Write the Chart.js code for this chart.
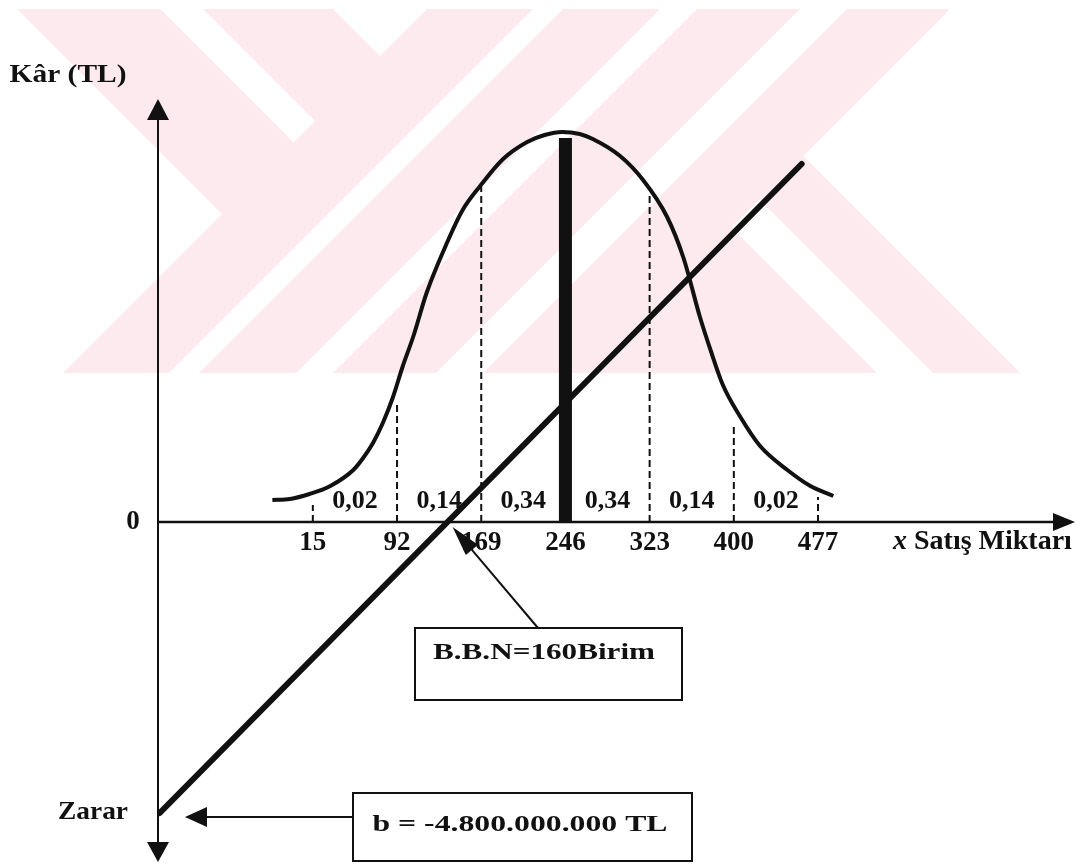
<!DOCTYPE html>
<html>
<head>
<meta charset="utf-8">
<script src="https://cdn.jsdelivr.net/npm/chart.js@4.4.1/dist/chart.umd.min.js"></script>
<style>
  html, body { margin: 0; padding: 0; background: #fff; }
  canvas { display: block; }
</style>
</head>
<body>
<canvas id="bepChart" width="1087" height="865"></canvas>
<script>
// sales quantity ticks on the x axis and the probability of each interval
const tickValues = [15, 92, 169, 246, 323, 400, 477];
const probabilities = [0.02, 0.14, 0.34, 0.34, 0.14, 0.02];

// demand curve (x = units, y = relative height)
const curveX = [-22, -6, 12, 31, 52, 61, 70, 79, 88, 97, 107, 119, 138, 152, 168, 189, 211, 227, 243,
                259, 271, 296, 317, 339, 354, 369, 379, 390, 406, 424, 449, 470, 491];
const curveY = [22, 23, 28, 36, 52, 64, 79, 99, 124, 155, 186, 229, 280, 312, 336, 363, 380, 387, 390,
                388, 383, 366, 342, 305, 264, 205, 171, 137, 105, 76, 52, 36, 26];

// dashed verticals under the curve (x and where each one stops)
const dashX = [15, 92, 169, 323, 400, 477];
const dashTop = [17, 120, 335, 330, 95, 25];

// expected sales (thick bar)
const meanX = [246, 246];
const meanY = [0, 384];

// profit line
const profitX = [-125, 462];
const profitY = [-291, 358];

const breakEven = 160;
const fixedCost = '-4.800.000.000';

const SERIF = '"Liberation Serif", "Times New Roman", serif';
const INK = '#111';

function label(ctx, str, x, y, size, width) {
    ctx.save();
    ctx.font = 'bold ' + size + 'px ' + SERIF;
    ctx.fillStyle = INK;
    ctx.textAlign = 'center';
    ctx.textBaseline = 'middle';
    ctx.translate(x, y);
    if (width) {
        ctx.scale(width / ctx.measureText(str).width, 1);
    }
    ctx.fillText(str, 0, 0);
    ctx.restore();
}

function arrow(ctx, x1, y1, x2, y2, len, half, lw) {
    const a = Math.atan2(y2 - y1, x2 - x1);
    const bx = x2 - len * Math.cos(a);
    const by = y2 - len * Math.sin(a);
    ctx.save();
    ctx.strokeStyle = INK;
    ctx.fillStyle = INK;
    ctx.lineWidth = lw;
    ctx.beginPath();
    ctx.moveTo(x1, y1);
    ctx.lineTo(bx, by);
    ctx.stroke();
    ctx.beginPath();
    ctx.moveTo(x2, y2);
    ctx.lineTo(bx + half * Math.sin(a), by - half * Math.cos(a));
    ctx.lineTo(bx - half * Math.sin(a), by + half * Math.cos(a));
    ctx.closePath();
    ctx.fill();
    ctx.restore();
}

// faint pink stamp behind the figure
const watermark = {
    id: 'watermark',
    beforeDraw(chart) {
        const ctx = chart.ctx;
        const poly = pts => {
            ctx.beginPath();
            pts.forEach(([px, py], i) => i ? ctx.lineTo(px, py) : ctx.moveTo(px, py));
            ctx.closePath();
            ctx.fill();
        };
        ctx.save();
        ctx.beginPath();
        ctx.rect(0, 9, chart.width, 364);
        ctx.clip();
        ctx.fillStyle = '#fdeaee';
        // '/' bands
        [[436, 542], [572, 669], [706, 809], [856, 959]].forEach(([a, b]) =>
            poly([[a, 0], [b, 0], [b - 400, 400], [a - 400, 400]]));
        // '\' bands on the left, ending in the first '/' band
        [[8, 151], [194, 324]].forEach(([a, b]) => {
            const c = 489;
            poly([[a, 0], [b, 0], [(b + c) / 2, (c - b) / 2], [(a + c) / 2, (c - a) / 2]]);
        });
        // '\' bands on the right, starting in the last '/' band
        [[200, 504], [560, 647]].forEach(([a, b]) => {
            const c = 907;
            poly([[(a + c) / 2, (c - a) / 2], [(b + c) / 2, (c - b) / 2], [b + 400, 400], [a + 400, 400]]);
        });
        ctx.restore();
    }
};

const axesAndLabels = {
    id: 'axesAndLabels',
    beforeDatasetsDraw(chart) {
        const ctx = chart.ctx;
        const ca = chart.chartArea;
        const x = chart.scales.x;
        const y = chart.scales.y;
        const y0 = y.getPixelForValue(0);
        const xL = ca.left;

        arrow(ctx, xL, y0, xL, ca.top, 21, 11, 2);
        arrow(ctx, xL, y0, xL, ca.bottom, 20, 11, 2);
        arrow(ctx, xL, y0, ca.right, y0, 22, 9, 2.5);

        label(ctx, '0', xL - 25, y0, 27);
        tickValues.forEach(v => label(ctx, String(v), x.getPixelForValue(v), y0 + 21, 27));
        probabilities.forEach((p, i) => {
            const mid = (tickValues[i] + tickValues[i + 1]) / 2;
            label(ctx, p.toFixed(2).replace('.', ','), x.getPixelForValue(mid), y0 - 21, 26);
        });

        label(ctx, 'Kâr (TL)', 68, ca.top - 24, 26, 117);
        label(ctx, 'Zarar', 93, y.getPixelForValue(profitY[0]), 25, 70);

        ctx.save();
        ctx.fillStyle = INK;
        ctx.textBaseline = 'middle';
        ctx.textAlign = 'left';
        ctx.font = 'italic bold 28px ' + SERIF;
        ctx.fillText('x', 893, y0 + 20);
        const xw = ctx.measureText('x').width;
        ctx.font = 'bold 28px ' + SERIF;
        ctx.fillText(' Satış Miktarı', 893 + xw, y0 + 20);
        ctx.restore();
    },
    afterDatasetsDraw(chart) {
        const ctx = chart.ctx;
        const x = chart.scales.x;
        const y = chart.scales.y;
        const y0 = y.getPixelForValue(0);

        // break-even box and pointer to where the profit line crosses zero
        const slope = (profitY[1] - profitY[0]) / (profitX[1] - profitX[0]);
        const crossX = x.getPixelForValue(profitX[0] - profitY[0] / slope);
        ctx.save();
        ctx.strokeStyle = INK;
        ctx.lineWidth = 2;
        ctx.strokeRect(415, 628, 267, 72);
        ctx.strokeRect(353, 793, 339, 68);
        ctx.restore();
        label(ctx, 'B.B.N=' + breakEven + 'Birim', 544, 653, 23, 222);
        arrow(ctx, 538, 628, crossX + 5, y0 + 5, 30, 8, 2);

        // fixed cost box pointing at the intercept
        label(ctx, 'b = ' + fixedCost + ' TL', 520, 825, 23, 295);
        const yb = y.getPixelForValue(profitY[0]) + 4;
        arrow(ctx, 353, yb, 185, yb, 22, 10, 2);
    }
};

const datasets = [
    {
        data: curveX.map((v, i) => ({ x: v, y: curveY[i] })),
        borderColor: INK,
        borderWidth: 4,
        cubicInterpolationMode: 'monotone'
    },
    {
        data: profitX.map((v, i) => ({ x: v, y: profitY[i] })),
        borderColor: INK,
        borderWidth: 6,
        borderCapStyle: 'round'
    },
    {
        data: meanX.map((v, i) => ({ x: v, y: meanY[i] })),
        borderColor: INK,
        borderWidth: 13
    }
].concat(dashX.map((v, i) => ({
    data: [{ x: v, y: 0 }, { x: v, y: dashTop[i] }],
    borderColor: INK,
    borderWidth: 2,
    borderDash: [7, 4]
})));

new Chart(document.getElementById('bepChart'), {
    type: 'line',
    data: { datasets: datasets },
    options: {
        responsive: false,
        animation: false,
        devicePixelRatio: 1,
        layout: { padding: { left: 158, right: 12, top: 99, bottom: 3 } },
        elements: { point: { radius: 0, hoverRadius: 0 }, line: { tension: 0, fill: false } },
        plugins: {
            legend: { display: false },
            tooltip: { enabled: false }
        },
        scales: {
            x: { type: 'linear', min: -126.6, max: 712, display: false },
            y: { type: 'linear', min: -340, max: 423, display: false }
        }
    },
    plugins: [watermark, axesAndLabels]
});
</script>
</body>
</html>
